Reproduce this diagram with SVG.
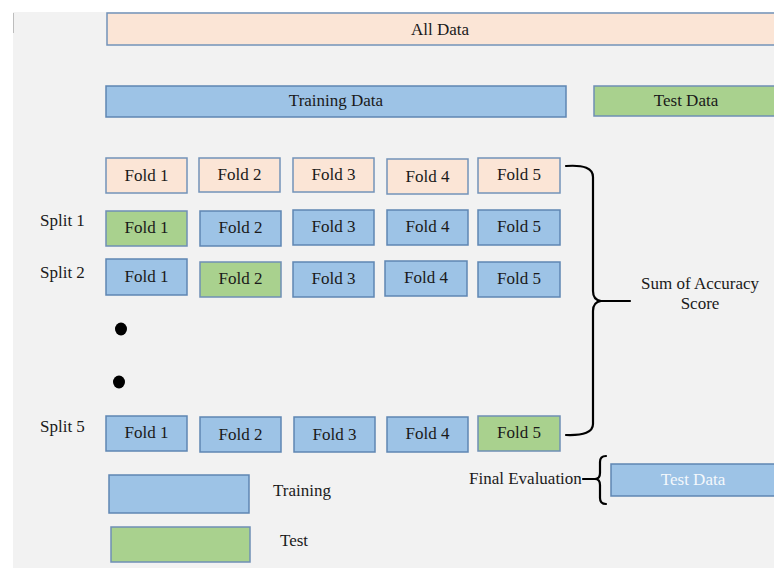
<svg xmlns="http://www.w3.org/2000/svg" width="774" height="569" viewBox="0 0 774 569">
<style>
.t{font-family:'Liberation Serif','DejaVu Serif',serif;font-size:17px;fill:#1a1a1a;text-anchor:middle}
.l{font-family:'Liberation Serif','DejaVu Serif',serif;font-size:17px;fill:#1a1a1a}
.pe{fill:#fbe5d6;stroke:#7393b9;stroke-width:1.5}
.bl{fill:#9dc3e6;stroke:#5f86b3;stroke-width:1.5}
.gr{fill:#a9d18e;stroke:#6f8fb5;stroke-width:1.5}
.br{fill:none;stroke:#000;stroke-width:2.2;stroke-linecap:round;stroke-linejoin:round}
</style>
<rect x="0" y="0" width="774" height="569" fill="#ffffff"/>
<rect x="13" y="12" width="761" height="556" fill="#f2f2f2"/>
<line x1="13.5" y1="13" x2="13.5" y2="33" stroke="#bdbdbd" stroke-width="1"/>

<g id="all-data"><rect class="pe" x="107" y="13" width="680" height="32"/><text class="t" x="440" y="35">All Data</text></g>
<g id="training-data"><rect class="bl" x="106" y="86" width="460" height="31"/><text class="t" x="336" y="106">Training Data</text></g>
<g id="test-data-top"><rect class="gr" x="594" y="86" width="190" height="30"/><text class="t" x="686" y="106">Test Data</text></g>

<g id="row0">
<g id="r0f1"><rect class="pe" x="106" y="158" width="81" height="35"/><text class="t" x="146.5" y="181">Fold 1</text></g>
<g id="r0f2"><rect class="pe" x="199" y="158" width="81" height="34"/><text class="t" x="239.5" y="180">Fold 2</text></g>
<g id="r0f3"><rect class="pe" x="293" y="158" width="81" height="34"/><text class="t" x="333.5" y="180">Fold 3</text></g>
<g id="r0f4"><rect class="pe" x="387" y="159" width="81" height="35"/><text class="t" x="427.5" y="182">Fold 4</text></g>
<g id="r0f5"><rect class="pe" x="478" y="158" width="82" height="35"/><text class="t" x="519" y="180">Fold 5</text></g>
</g>

<g id="split1-label"><text class="l" x="40" y="226">Split 1</text></g>
<g id="row1">
<g id="r1f1"><rect class="gr" x="106" y="211" width="81" height="35"/><text class="t" x="146.5" y="233">Fold 1</text></g>
<g id="r1f2"><rect class="bl" x="200" y="211" width="81" height="35"/><text class="t" x="240.5" y="233">Fold 2</text></g>
<g id="r1f3"><rect class="bl" x="293" y="210" width="81" height="35"/><text class="t" x="333.5" y="232">Fold 3</text></g>
<g id="r1f4"><rect class="bl" x="387" y="210" width="81" height="35"/><text class="t" x="427.5" y="232">Fold 4</text></g>
<g id="r1f5"><rect class="bl" x="478" y="210" width="82" height="35"/><text class="t" x="519" y="232">Fold 5</text></g>
</g>

<g id="split2-label"><text class="l" x="40" y="278">Split 2</text></g>
<g id="row2">
<g id="r2f1"><rect class="bl" x="106" y="259" width="81" height="36"/><text class="t" x="146.5" y="282">Fold 1</text></g>
<g id="r2f2"><rect class="gr" x="200" y="262" width="81" height="35"/><text class="t" x="240.5" y="284">Fold 2</text></g>
<g id="r2f3"><rect class="bl" x="293" y="262" width="81" height="35"/><text class="t" x="333.5" y="284">Fold 3</text></g>
<g id="r2f4"><rect class="bl" x="385" y="261" width="82" height="35"/><text class="t" x="426" y="283">Fold 4</text></g>
<g id="r2f5"><rect class="bl" x="478" y="262" width="82" height="35"/><text class="t" x="519" y="284">Fold 5</text></g>
</g>

<g id="ellipsis">
<ellipse cx="121" cy="329" rx="6" ry="6.5" fill="#000"/>
<ellipse cx="119" cy="382" rx="6" ry="6.5" fill="#000"/>
</g>

<g id="split5-label"><text class="l" x="40" y="432">Split 5</text></g>
<g id="row5">
<g id="r5f1"><rect class="bl" x="106" y="416" width="81" height="35"/><text class="t" x="146.5" y="438">Fold 1</text></g>
<g id="r5f2"><rect class="bl" x="200" y="417" width="81" height="35"/><text class="t" x="240.5" y="440">Fold 2</text></g>
<g id="r5f3"><rect class="bl" x="294" y="417" width="81" height="35"/><text class="t" x="334.5" y="440">Fold 3</text></g>
<g id="r5f4"><rect class="bl" x="387" y="417" width="81" height="35"/><text class="t" x="427.5" y="439">Fold 4</text></g>
<g id="r5f5"><rect class="gr" x="478" y="416" width="82" height="35"/><text class="t" x="519" y="438">Fold 5</text></g>
</g>

<g id="sum-label"><text class="t" x="700" y="289">Sum of Accuracy</text><text class="t" x="700" y="309">Score</text></g>
<g id="final-eval-label"><text class="l" x="469" y="484">Final Evaluation</text></g>
<g id="test-data-final"><rect class="bl" x="611" y="464" width="180" height="32"/><text class="t" x="693" y="485" style="fill:#f4f8fc">Test Data</text></g>

<g id="legend-training"><rect class="bl" x="109" y="475" width="140" height="38"/><text class="l" x="273" y="496">Training</text></g>
<g id="legend-test"><rect class="gr" x="111" y="527" width="139" height="35"/><text class="l" x="280" y="546">Test</text></g>

<g id="connectors">
<path class="br" d="M566 166 Q593 164 593 177 L593 291 Q593 300 601 301 L630 301 M601 301 Q593 302 593 311 L593 424 Q593 436 566 435"/>
<path class="br" d="M606 456 Q600 456 600 462 L600 473 Q600 479 595 479 L583 479 M595 479 Q600 479 600 485 L600 498 Q600 504 606 504"/>
</g>
</svg>
